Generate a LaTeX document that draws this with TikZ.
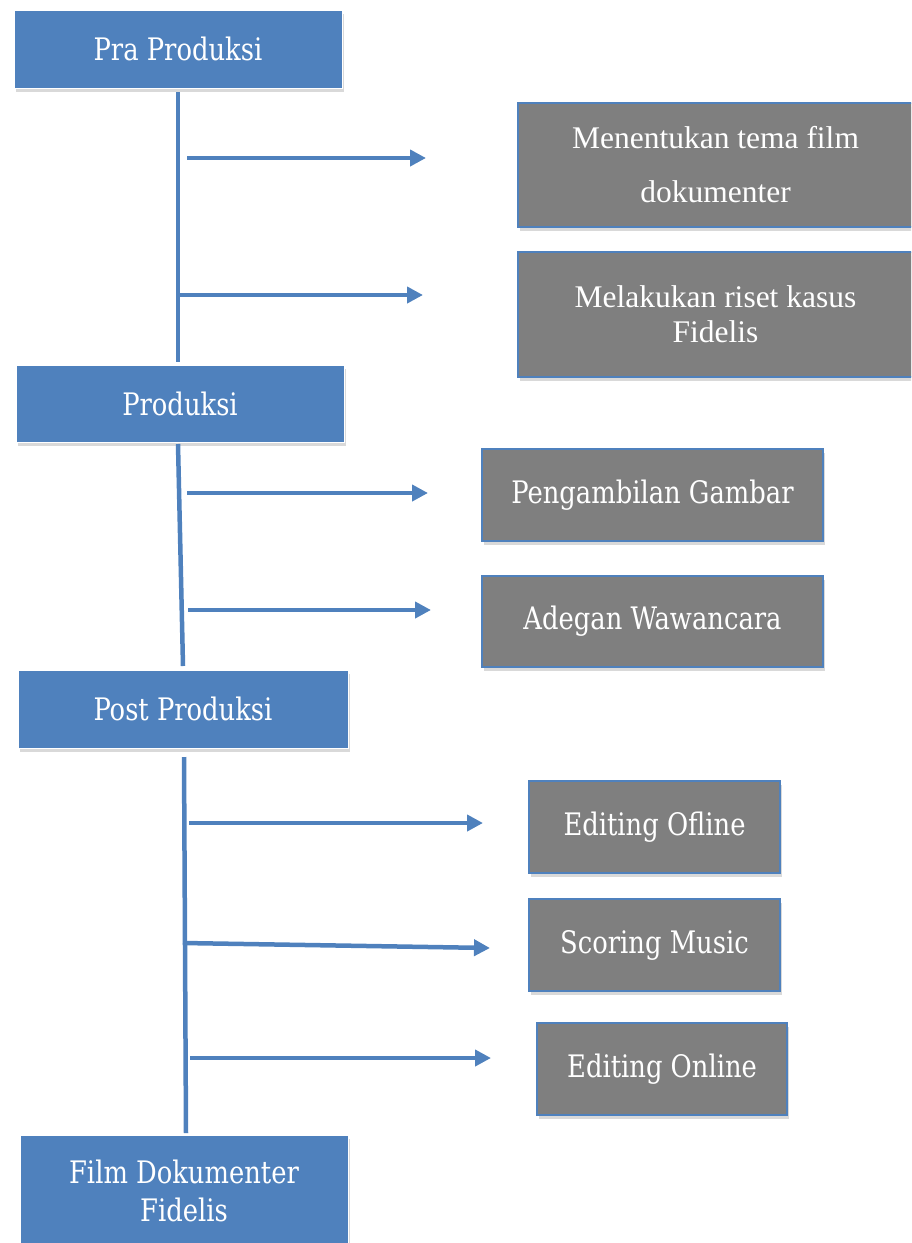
\documentclass[tikz,border=0pt]{standalone}
\usepackage{fontspec}
\newfontfamily\timesf{Liberation Serif}
\newfontfamily\camf[FakeStretch=0.925]{DejaVu Serif Condensed}
\usetikzlibrary{arrows.meta,shadows}
\definecolor{bblue}{HTML}{4F81BD}
\definecolor{bgray}{HTML}{7F7F7F}
\begin{document}
\begin{tikzpicture}[x=1pt,y=-1pt,
  phase/.style={rectangle, fill=bblue, draw=white, line width=1pt, text=white,
    font=\camf\fontsize{31}{38}\selectfont, align=center, inner sep=0pt,
    drop shadow={shadow xshift=1.5pt, shadow yshift=-4pt, opacity=0.3}},
  task/.style={rectangle, fill=bgray, draw=bblue, line width=1.3pt, text=white,
    font=\camf\fontsize{31}{38}\selectfont, align=center, inner sep=0pt,
    drop shadow={shadow xshift=1.5pt, shadow yshift=-4pt, opacity=0.3}},
  ttask/.style={task, font=\timesf\fontsize{31.5}{35}\selectfont},
  conn/.style={draw=bblue, line width=4.5pt},
  arr/.style={conn, -{Triangle[length=16pt,width=16pt]}}
]
\useasboundingbox (0,0) rectangle (911,1243);
\clip (0,0) rectangle (911,1243);

% phase boxes
\node[phase, minimum width=328pt, minimum height=78pt] (pra) at (178,49) {Pra Produksi};
\node[phase, minimum width=328pt, minimum height=77pt] (prod) at (180,403.5) {Produksi};
\node[phase, minimum width=330pt, minimum height=78pt] (post) at (183,709) {Post Produksi};
\node[phase, minimum width=328pt, minimum height=112pt] (film) at (184,1191) {Film Dokumenter\\Fidelis};

% task boxes
\node[ttask, minimum width=395pt, minimum height=124pt, font=\timesf\fontsize{31.5}{54}\selectfont] (tema) at (715.5,165) {Menentukan tema film\\dokumenter};
\node[ttask, minimum width=395pt, minimum height=125pt] (riset) at (715.5,314.5) {Melakukan riset kasus\\Fidelis};
\node[task, minimum width=341pt, minimum height=92pt] (gambar) at (652.5,495) {Pengambilan Gambar};
\node[task, minimum width=341pt, minimum height=91pt] (wawan) at (652.5,621.5) {Adegan Wawancara};
\node[task, minimum width=251pt, minimum height=92pt] (ofline) at (654.5,827) {Editing Ofline};
\node[task, minimum width=251pt, minimum height=92pt] (scoring) at (654.5,945) {Scoring Music};
\node[task, minimum width=250pt, minimum height=92pt] (online) at (662,1069) {Editing Online};

% trunk lines
\coordinate (p1) at (178,92);
\coordinate (p2) at (178,362);
\coordinate (q1) at (178,444);
\coordinate (q2) at (183,666);
\coordinate (r1) at (184,757);
\coordinate (r2) at (186,1133);
\draw[conn] (p1) -- (p2);
\draw[conn] (q1) -- (q2);
\draw[conn] (r1) -- (r2);

% branch arrows
\coordinate (a1s) at (187,158);  \coordinate (a1e) at (426,158);
\coordinate (a2s) at (180,295);  \coordinate (a2e) at (423,295);
\coordinate (a3s) at (187,493);  \coordinate (a3e) at (428,493);
\coordinate (a4s) at (188,610);  \coordinate (a4e) at (431,610);
\coordinate (a5s) at (189,823);  \coordinate (a5e) at (483,823);
\coordinate (a6s) at (183,943);  \coordinate (a6e) at (490,948);
\coordinate (a7s) at (190,1058); \coordinate (a7e) at (491,1058);
\draw[arr] (a1s) -- (a1e);
\draw[arr] (a2s) -- (a2e);
\draw[arr] (a3s) -- (a3e);
\draw[arr] (a4s) -- (a4e);
\draw[arr] (a5s) -- (a5e);
\draw[arr] (a6s) -- (a6e);
\draw[arr] (a7s) -- (a7e);
\end{tikzpicture}
\end{document}
